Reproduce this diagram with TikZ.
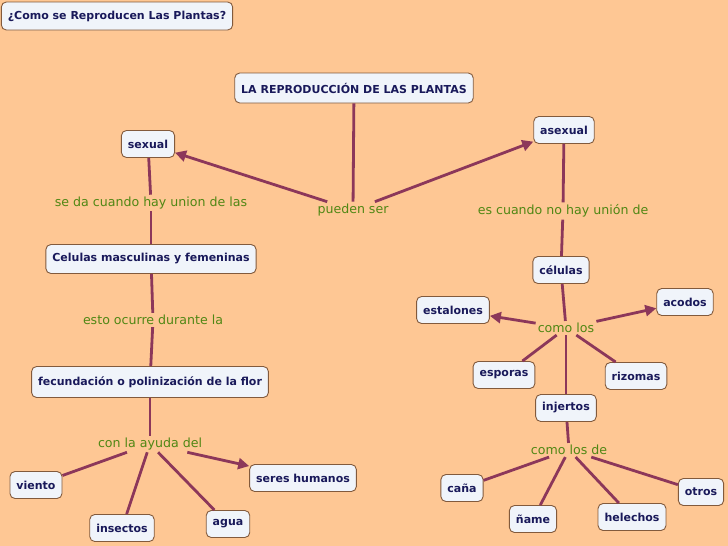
\documentclass[tikz,border=0pt]{standalone}
\usepackage{fontspec}
\setmainfont{DejaVu Sans}
\usetikzlibrary{arrows.meta}
\definecolor{bg}{RGB}{254,199,148}
\definecolor{boxfill}{RGB}{240,244,250}
\definecolor{boxline}{RGB}{130,90,60}
\definecolor{navy}{RGB}{25,25,90}
\definecolor{lgreen}{RGB}{80,135,20}
\definecolor{linkc}{RGB}{140,55,90}
\begin{document}
\begin{tikzpicture}[x=1pt,y=-1pt,
  box/.style={draw=boxline, line width=0.9pt, fill=boxfill, rounded corners=5pt,
    text=navy, font=\fontsize{11}{13}\selectfont\bfseries, minimum height=27pt, inner xsep=6.5pt, inner ysep=4pt},
  lbl/.style={text=lgreen, font=\fontsize{12.6}{14}\selectfont, inner sep=2pt},
  link/.style={draw=linkc, line width=2.8pt},
  arr/.style={link, -{Triangle[length=11pt,width=11pt]}}]
\fill[bg] (0,0) rectangle (728,546);
\useasboundingbox (0,0) rectangle (728,546);
% nodes
\node[box, minimum height=28pt] (title) at (117,16) {¿Como se Reproducen Las Plantas?};
\node[box, minimum height=30pt] (main) at (354,88) {LA REPRODUCCIÓN DE LAS PLANTAS};
\node[box] (sexual) at (148,144) {sexual};
\node[box] (asexual) at (564,130) {asexual};
\node[lbl] (pueden) at (353,210) {pueden ser};
\node[lbl] (seda) at (151,203) {se da cuando hay union de las};
\node[lbl] (escuando) at (563,211) {es cuando no hay unión de};
\node[box, minimum height=29pt] (celmf) at (151,259) {Celulas masculinas y femeninas};
\node[lbl] (esto) at (153,320) {esto ocurre durante la};
\node[box, minimum height=31pt] (fecund) at (150,382) {fecundación o polinización de la flor};
\node[lbl] (ayuda) at (150,444) {con la ayuda del};
\node[box] (viento) at (36,485) {viento};
\node[box] (insectos) at (122,528) {insectos};
\node[box] (agua) at (228,524) {agua};
\node[box] (seres) at (303,478) {seres humanos};
\node[box] (celulas) at (561,270) {células};
\node[box] (estalones) at (453,310) {estalones};
\node[box] (acodos) at (685,302) {acodos};
\node[lbl] (comolos) at (566,328) {como los};
\node[box] (esporas) at (504,375) {esporas};
\node[box] (rizomas) at (636,376) {rizomas};
\node[box] (injertos) at (566,408) {injertos};
\node[lbl] (comolosde) at (569,450) {como los de};
\node[box] (cana) at (462,488) {caña};
\node[box] (name) at (533,519) {ñame};
\node[box] (helechos) at (632,517) {helechos};
\node[box] (otros) at (701,492) {otros};
% connectors
\draw[link] (main) -- (pueden);
\draw[arr] (pueden) -- (sexual);
\draw[arr] (pueden) -- (asexual);
\draw[link] (sexual) -- (seda);
\draw[link] (seda) -- (celmf);
\draw[link] (celmf) -- (esto);
\draw[link] (esto) -- (fecund);
\draw[link] (fecund) -- (ayuda);
\draw[link] (ayuda) -- (viento);
\draw[link] (ayuda) -- (insectos);
\draw[link] (ayuda) -- (agua);
\draw[arr] (ayuda) -- (seres);
\draw[link] (asexual) -- (escuando);
\draw[link] (escuando) -- (celulas);
\draw[link] (celulas) -- (comolos);
\draw[arr] (comolos) -- (estalones);
\draw[arr] (comolos) -- (acodos);
\draw[link] (comolos) -- (esporas);
\draw[link] (comolos) -- (rizomas);
\draw[link] (comolos) -- (injertos);
\draw[link] (injertos) -- (comolosde);
\draw[link] (comolosde) -- (cana);
\draw[link] (comolosde) -- (name);
\draw[link] (comolosde) -- (helechos);
\draw[link] (comolosde) -- (otros);
\end{tikzpicture}
\end{document}
